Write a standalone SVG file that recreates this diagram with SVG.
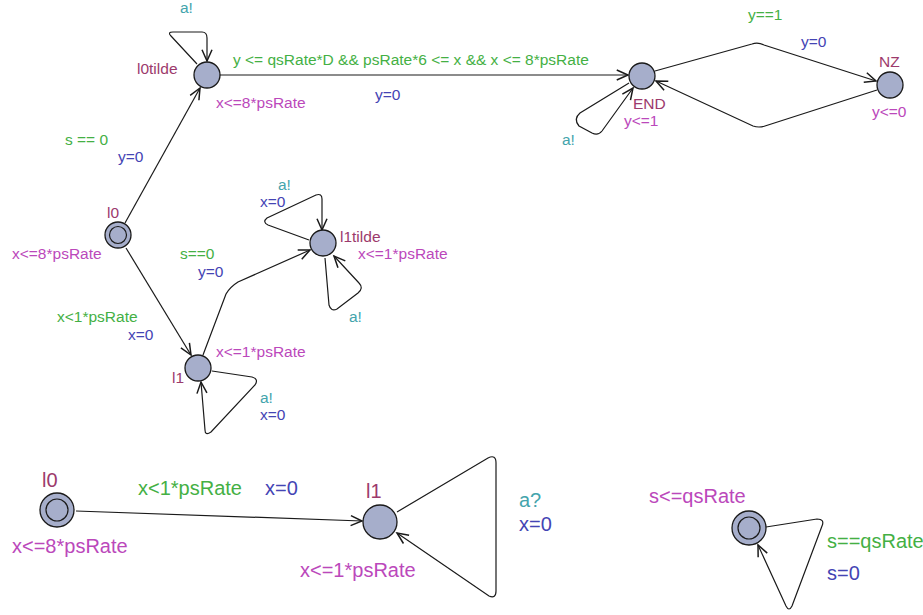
<svg xmlns="http://www.w3.org/2000/svg" width="923" height="615" viewBox="0 0 923 615">
<defs>
<marker id="arr" markerUnits="userSpaceOnUse" markerWidth="20" markerHeight="20" refX="0" refY="0" viewBox="-12 -8 14 16" orient="auto" overflow="visible">
<path d="M-9,-4 L0,0 L-9,4" fill="none" stroke="#1a1a1a" stroke-width="1.2"/>
</marker>
<style>
text{font-family:"Liberation Sans",Arial,sans-serif;font-size:15.5px}
.big text,text.big{font-size:20px}
.nm{fill:#9c3a6c}
.inv{fill:#bb48bb}
.gd{fill:#44b044}
.as{fill:#4444b4}
.sy{fill:#44a4ac}
.loc{fill:#a6aecb;stroke:#1a1a1a;stroke-width:1.3}
.edge path,.edge line{fill:none;stroke:#1a1a1a;stroke-width:1.2;marker-end:url(#arr)}
</style>
</defs>
<rect width="923" height="615" fill="#ffffff"/>

<g id="connectors" class="edge">
<path d="M197,64 L171,36 Q167,32 173,32 L202,32 Q207,32 207,38 L207,61"/>
<line x1="220" y1="75" x2="628" y2="75"/>
<path d="M629,83 L580,113 Q573,119 579,126 L592,133 Q598,136 602,131 L633,88"/>
<path d="M655,71 L752,44 Q758,42 764,45 L876,81"/>
<path d="M877,90 L765,126 Q759,128 753,126 L656,81"/>
<line x1="125" y1="223" x2="200" y2="88"/>
<line x1="126" y1="248" x2="191" y2="355"/>
<path d="M203,355 L226,294 Q230,287 238,282 L310,250"/>
<path d="M309,240 L268,225 Q262,222 267,218 L316,195 Q322,193 322,199 L322,230"/>
<path d="M325,258 L329,305 Q331,312 337,309 L358,293 Q364,288 359,283 L334,256"/>
<path d="M212,371 L252,377 Q259,379 255,385 L211,432 Q205,436 205,430 L201,382"/>
<line x1="76" y1="511" x2="362" y2="521"/>
<path d="M397,512 L488,458 Q496,454 496,463 L496,591 Q496,599 489,596 L397,533"/>
<path d="M766,527 L817,519 Q825,519 822,526 L792,606 Q789,612 786,606 L758,545"/>
</g>

<g id="l0tilde">
<circle class="loc" cx="207" cy="75" r="13"/>
<text class="nm" x="137" y="74">l0tilde</text>
<text class="inv" x="216" y="108">x&lt;=8*psRate</text>
</g>
<g id="END">
<circle class="loc" cx="642" cy="76" r="13"/>
<text class="nm" x="633" y="109">END</text>
<text class="inv" x="624" y="126">y&lt;=1</text>
</g>
<g id="NZ">
<circle class="loc" cx="890" cy="85" r="13"/>
<text class="nm" x="879" y="67">NZ</text>
<text class="inv" x="872" y="117">y&lt;=0</text>
</g>
<g id="l0">
<circle class="loc" cx="118" cy="235" r="13"/>
<circle cx="118" cy="235" r="8.5" fill="none" stroke="#1a1a1a" stroke-width="1.2"/>
<text class="nm" x="107" y="218">l0</text>
<text class="inv" x="12" y="259">x&lt;=8*psRate</text>
</g>
<g id="l1tilde">
<circle class="loc" cx="323" cy="243" r="13"/>
<text class="nm" x="340" y="242">l1tilde</text>
<text class="inv" x="358" y="259">x&lt;=1*psRate</text>
</g>
<g id="l1">
<circle class="loc" cx="198" cy="368" r="13"/>
<text class="nm" x="172" y="383">l1</text>
<text class="inv" x="216" y="357">x&lt;=1*psRate</text>
</g>
<g id="b_l0" class="big">
<circle class="loc" cx="57" cy="510" r="17"/>
<circle cx="57" cy="510" r="11" fill="none" stroke="#1a1a1a" stroke-width="1.2"/>
<text class="nm" x="42" y="487">l0</text>
<text class="inv" x="12" y="553">x&lt;=8*psRate</text>
</g>
<g id="b_l1" class="big">
<circle class="loc" cx="380" cy="522" r="17"/>
<text class="nm" x="366" y="498">l1</text>
<text class="inv" x="300" y="577">x&lt;=1*psRate</text>
</g>
<g id="b_s" class="big">
<circle class="loc" cx="749" cy="528" r="17"/>
<circle cx="749" cy="528" r="11" fill="none" stroke="#1a1a1a" stroke-width="1.2"/>
<text class="inv" x="649" y="503">s&lt;=qsRate</text>
</g>

<g id="labels">
<text class="sy" x="180" y="13">a!</text>
<text class="gd" x="233" y="65">y &lt;= qsRate*D &amp;&amp; psRate*6 &lt;= x &amp;&amp; x &lt;= 8*psRate</text>
<text class="as" x="375" y="100">y=0</text>
<text class="sy" x="562" y="145">a!</text>
<text class="gd" x="748" y="20">y==1</text>
<text class="as" x="801" y="47">y=0</text>
<text class="gd" x="65" y="145">s == 0</text>
<text class="as" x="118" y="162">y=0</text>
<text class="sy" x="278" y="190">a!</text>
<text class="as" x="260" y="207">x=0</text>
<text class="gd" x="180" y="259">s==0</text>
<text class="as" x="198" y="277">y=0</text>
<text class="sy" x="349" y="322">a!</text>
<text class="gd" x="57" y="322">x&lt;1*psRate</text>
<text class="as" x="128" y="340">x=0</text>
<text class="sy" x="260" y="403">a!</text>
<text class="as" x="260" y="420">x=0</text>
<text class="gd big" x="138" y="495">x&lt;1*psRate</text>
<text class="as big" x="265" y="495">x=0</text>
<text class="sy big" x="519" y="507">a?</text>
<text class="as big" x="519" y="531">x=0</text>
<text class="gd big" x="827" y="548">s==qsRate</text>
<text class="as big" x="827" y="580">s=0</text>
</g>
</svg>
